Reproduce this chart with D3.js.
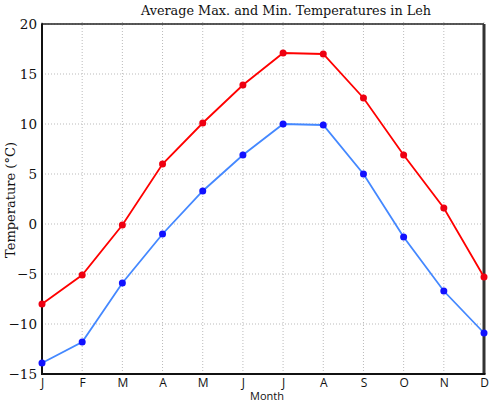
<!DOCTYPE html>
<html>
<head>
<meta charset="utf-8">
<script src="https://cdn.jsdelivr.net/npm/d3@7"></script>
<style>
  body { margin: 0; background: #fff; }
</style>
</head>
<body>
<svg id="drawing_region"></svg>
<script>
const months = ['J', 'F', 'M', 'A', 'M', 'J', 'J', 'A', 'S', 'O', 'N', 'D'];
const maxTemps = [-8.0, -5.1, -0.1, 6.0, 10.1, 13.9, 17.1, 17.0, 12.6, 6.9, 1.6, -5.3];
const minTemps = [-13.9, -11.8, -5.9, -1.0, 3.3, 6.9, 10.0, 9.9, 5.0, -1.3, -6.7, -10.9];
const yTicks = [-15, -10, -5, 0, 5, 10, 15, 20];

const config = {
    parent: '#drawing_region',
    width: 500,
    height: 404,
    margin: { top: 24, right: 16, bottom: 30, left: 42 }
};

const svg = d3.select(config.parent)
    .attr('width', config.width)
    .attr('height', config.height);

const innerW = config.width - config.margin.left - config.margin.right;
const innerH = config.height - config.margin.top - config.margin.bottom;

const chart = svg.append('g')
    .attr('transform', `translate(${config.margin.left}, ${config.margin.top})`);

const xscale = d3.scalePoint()
    .domain(d3.range(months.length))
    .range([0, innerW]);

const yscale = d3.scaleLinear()
    .domain([-15, 20])
    .range([innerH, 0]);

// grid
chart.append('g')
    .selectAll('line')
    .data(d3.range(months.length))
    .join('line')
    .attr('x1', d => xscale(d)).attr('x2', d => xscale(d))
    .attr('y1', -2).attr('y2', innerH)
    .attr('stroke', '#bbb')
    .attr('stroke-dasharray', '1,2');

chart.append('g')
    .selectAll('line')
    .data(yTicks)
    .join('line')
    .attr('x1', 0).attr('x2', innerW)
    .attr('y1', d => yscale(d)).attr('y2', d => yscale(d))
    .attr('stroke', '#bbb')
    .attr('stroke-dasharray', '1,2');

// axes
const xaxis = d3.axisBottom(xscale)
    .tickFormat(i => months[i])
    .tickSize(0)
    .tickPadding(4);

chart.append('g')
    .attr('transform', `translate(0, ${innerH})`)
    .call(xaxis)
    .call(g => g.select('.domain').remove())
    .selectAll('text')
    .attr('font-family', '"Open Sans", sans-serif')
    .attr('font-size', 12)
    .attr('fill', '#111');

const yaxis = d3.axisLeft(yscale)
    .tickValues(yTicks)
    .tickSize(0)
    .tickPadding(5);

chart.append('g')
    .call(yaxis)
    .call(g => g.select('.domain').remove())
    .selectAll('text')
    .attr('font-family', '"DejaVu Serif", serif')
    .attr('font-size', 13.5)
    .attr('fill', '#111');

// frame
chart.append('line')
    .attr('x1', 0).attr('x2', innerW).attr('y1', 0).attr('y2', 0)
    .attr('stroke', '#222').attr('stroke-width', 1.5);
chart.append('line')
    .attr('x1', innerW).attr('x2', innerW).attr('y1', 0).attr('y2', innerH)
    .attr('stroke', '#333').attr('stroke-width', 3);
chart.append('line')
    .attr('x1', 0).attr('x2', 0).attr('y1', -0.75).attr('y2', innerH + 1)
    .attr('stroke', '#111').attr('stroke-width', 2);
chart.append('line')
    .attr('x1', 0).attr('x2', innerW + 1.5).attr('y1', innerH).attr('y2', innerH)
    .attr('stroke', '#111').attr('stroke-width', 2);

// lines
const line = d3.line()
    .x((d, i) => xscale(i))
    .y(d => yscale(d));

const series = [
    { values: maxTemps, line: '#ff0000', dot: '#ee0011' },
    { values: minTemps, line: '#4488ff', dot: '#1111ff' }
];

series.forEach(s => {
    chart.append('path')
        .datum(s.values)
        .attr('d', line)
        .attr('fill', 'none')
        .attr('stroke', s.line)
        .attr('stroke-width', 1.8);

    chart.append('g')
        .selectAll('circle')
        .data(s.values)
        .join('circle')
        .attr('cx', (d, i) => xscale(i))
        .attr('cy', d => yscale(d))
        .attr('r', 3.5)
        .attr('fill', s.dot);
});

// labels
svg.append('text')
    .attr('x', 286)
    .attr('y', 14.5)
    .attr('text-anchor', 'middle')
    .attr('font-family', '"DejaVu Serif", serif')
    .attr('font-size', 12.8)
    .attr('fill', '#111')
    .text('Average Max. and Min. Temperatures in Leh');

svg.append('text')
    .attr('transform', `translate(15, 200) rotate(-90)`)
    .attr('text-anchor', 'middle')
    .attr('font-family', '"DejaVu Serif", serif')
    .attr('font-size', 13)
    .attr('fill', '#111')
    .text('Temperature (°C)');

svg.append('text')
    .attr('x', 267)
    .attr('y', 400)
    .attr('text-anchor', 'middle')
    .attr('font-family', '"Open Sans", sans-serif')
    .attr('font-size', 11)
    .attr('fill', '#111')
    .text('Month');
</script>
</body>
</html>
